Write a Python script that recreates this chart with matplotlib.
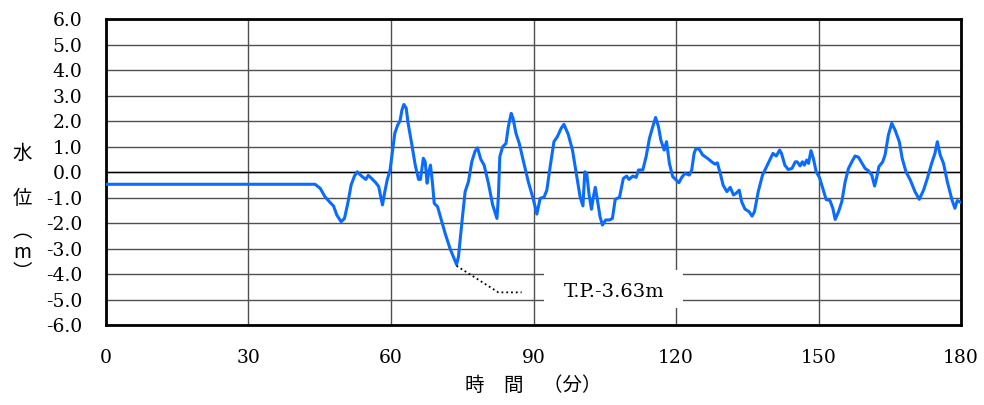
import numpy as np
import matplotlib.pyplot as plt
from matplotlib.patches import Rectangle
from matplotlib import rc

rc('font', family='DejaVu Serif')

# water level record (minutes, m)
t_min = [0, 44.0, 45.1, 46.1, 47.2, 47.9, 48.6, 49.5, 50.2, 50.9, 51.6, 52.3, 52.9, 53.8, 54.7,
         55.2, 55.9, 56.8, 57.4, 58.2, 58.7, 59.2, 59.8, 60.3, 60.8, 61.4, 61.9, 62.3, 62.7, 63.2,
         63.6, 64.4, 65.1, 65.8, 66.2, 66.8, 67.2, 67.6, 67.9, 68.3, 68.7, 69.1, 69.8, 70.3, 71.4,
         72.4, 73.8, 74.2, 74.9, 75.6, 76.3, 77.0, 77.7, 78.2, 78.9, 79.6, 80.5, 81.4, 82.3, 82.6,
         82.9, 83.5, 84.2, 84.7, 85.3, 85.7, 86.3, 87.0, 87.9, 88.9, 90.0, 90.7, 91.4, 92.2, 92.8,
         93.5, 94.3, 95.0, 95.8, 96.4, 97.3, 98.2, 99.1, 99.8, 100.4, 100.8, 101.2, 101.7, 102.2,
         102.6, 103.0, 103.5, 104.0, 104.5, 105.2, 106.0, 106.6, 107.2, 108.1, 108.9, 109.6, 110.1,
         110.9, 111.6, 112.1, 113.0, 113.7, 114.4, 115.1, 115.7, 116.3, 116.8, 117.5, 118.0, 118.6,
         119.3, 120.0, 120.6, 121.2, 121.9, 122.8, 123.3, 123.8, 124.2, 124.9, 125.6, 126.6, 127.5,
         128.2, 128.7, 129.4, 129.9, 130.7, 131.4, 132.1, 132.6, 133.3, 133.8, 134.5, 135.4, 136.0,
         136.5, 137.3, 138.2, 139.2, 140.4, 141.1, 141.8, 142.2, 142.9, 143.6, 144.4, 145.1, 145.5,
         146.1, 146.6, 147.0, 147.5, 147.9, 148.4, 148.9, 149.5, 150.2, 150.9, 151.6, 152.4, 153.0,
         153.5, 154.2, 154.9, 155.6, 156.3, 157.0, 157.7, 158.4, 159.1, 159.8, 160.5, 161.2, 161.8,
         162.2, 162.7, 163.5, 164.0, 164.7, 165.4, 166.1, 167.0, 167.6, 168.4, 169.3, 170.3, 171.2,
         172.1, 172.9, 173.8, 174.5, 175.0, 175.6, 176.3, 177.1, 178.1, 178.7, 179.2, 179.6, 180]
level = [-0.48, -0.48, -0.64, -0.97, -1.20, -1.33, -1.69, -1.95, -1.82, -1.23, -0.51, -0.16, 0.01, -0.16, -0.29,
         -0.13, -0.25, -0.42, -0.57, -1.29, -0.77, -0.31, 0.08, 0.80, 1.52, 1.84, 2.01, 2.43, 2.65, 2.50,
         1.91, 1.06, 0.27, -0.29, -0.29, 0.54, 0.40, -0.44, -0.05, 0.27, -0.38, -1.23, -1.36, -1.69, -2.41,
         -2.99, -3.63, -3.32, -2.01, -0.77, -0.38, 0.40, 0.82, 0.95, 0.50, 0.27, -0.44, -1.29, -1.82, -0.97,
         0.60, 0.99, 1.12, 1.78, 2.30, 2.10, 1.52, 1.12, 0.40, -0.38, -1.10, -1.65, -1.03, -0.99, -0.71,
         0.21, 1.19, 1.38, 1.71, 1.87, 1.48, 0.86, -0.18, -0.97, -1.33, 0.01, -0.05, -0.90, -1.46,
         -0.97, -0.60, -1.16, -1.75, -2.08, -1.88, -1.88, -1.82, -1.07, -0.99, -0.25, -0.16, -0.29,
         -0.16, -0.21, 0.08, 0.08, 0.60, 1.32, 1.78, 2.14, 1.78, 1.25, 0.86, 1.19, 0.34,
         -0.18, -0.31, -0.42, -0.21, -0.05, -0.12, 0.08, 0.73, 0.93, 0.89, 0.67, 0.54, 0.40,
         0.31, 0.36, -0.12, -0.51, -0.77, -0.60, -0.90, -0.84, -0.71, -1.16, -1.45, -1.56, -1.73,
         -1.56, -0.77, -0.12, 0.27, 0.73, 0.63, 0.86, 0.73, 0.27, 0.10, 0.14, 0.40, 0.40,
         0.24, 0.40, 0.27, 0.47, 0.34, 0.84, 0.54, 0.01, -0.22, -0.65, -1.08, -1.12, -1.42,
         -1.86, -1.56, -1.16, -0.38, 0.14, 0.40, 0.63, 0.58, 0.36, 0.14, 0.05, -0.12, -0.55,
         -0.25, 0.21, 0.40, 0.67, 1.45, 1.91, 1.65, 1.19, 0.54, 0.01, -0.31, -0.77, -1.07,
         -0.71, -0.25, 0.34, 0.73, 1.19, 0.67, 0.34, -0.38, -1.10, -1.42, -1.12, -1.16, -1.20]

# leader line to the minimum label
lead_t = [73.8, 82.6, 87.5]
lead_v = [-3.68, -4.72, -4.72]
min_label = "T.P.-3.63m"

xticks = [0, 30, 60, 90, 120, 150, 180]
yticks = np.arange(-6, 7, 1)

fig = plt.figure(figsize=(9.84, 4.05), dpi=100)
ax = fig.add_axes([0.1077, 0.1975, 0.869, 0.7555])

ax.plot(t_min, level, color='#0a6cff', lw=2.2, zorder=3)
ax.plot(lead_t, lead_v, color='black', ls=':', lw=1.3, zorder=3)

# white box behind label hides the grid
ax.add_patch(Rectangle((92.3, -5.33), 29.2, 1.49, facecolor='white', edgecolor='none', zorder=1.5))
ax.text(106.9, -4.72, min_label, ha='center', va='center', fontsize=14, zorder=4)

ax.set_xlim(0, 180)
ax.set_ylim(-6, 6)
ax.set_xticks(xticks)
ax.set_yticks(yticks)
ax.set_yticklabels(['%.1f' % y for y in yticks])
ax.tick_params(length=0, labelsize=13.5)
ax.tick_params(axis='x', pad=17)
ax.tick_params(axis='y', pad=17)

ax.grid(True, color='#505050', lw=1.0)
ax.set_axisbelow(True)
ax.axhline(0, color='black', lw=1.0, zorder=1)
for s in ax.spines.values():
    s.set_linewidth(2.0)

# japanese axis titles, y title stacked vertically
jp = ['Noto Sans CJK JP', 'DejaVu Sans']
fig.text(533 / 984, 1 - 385 / 405, '時　間　（分）', ha='center', va='center', fontsize=14, family=jp)
fig.text(22 / 984, 1 - 153 / 405, '水', ha='center', va='center', fontsize=14, family=jp)
fig.text(22 / 984, 1 - 199 / 405, '位', ha='center', va='center', fontsize=14, family=jp)
fig.text(22 / 984, 1 - 252 / 405, '︵\nm\n︶', ha='center', va='center', fontsize=14,
         linespacing=0.95, family=jp)

fig.savefig('out.png', dpi=100)
